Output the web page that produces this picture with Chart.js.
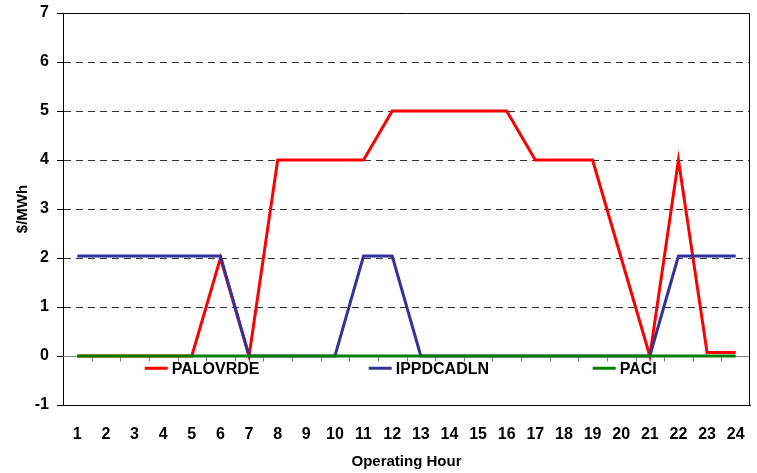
<!DOCTYPE html>
<html>
<head>
<meta charset="utf-8">
<script src="https://cdn.jsdelivr.net/npm/chart.js@4/dist/chart.umd.min.js"></script>
<style>
html,body{margin:0;padding:0;background:#fff;}
#wrap{width:757px;height:473px;position:relative;}
</style>
</head>
<body>
<div id="wrap"><canvas id="c" width="757" height="473"></canvas></div>
<script>
const hours = ['1','2','3','4','5','6','7','8','9','10','11','12','13','14','15','16','17','18','19','20','21','22','23','24'];
const palovrde = [0,0,0,0,0,2,0,4,4,4,4,5,5,5,5,5,4,4,4,2,0,4,0.07,0.07];
const ippdcadln = [2.04,2.04,2.04,2.04,2.04,2.04,0,0,0,0,2.04,2.04,0,0,0,0,0,0,0,0,0,2.04,2.04,2.04];
const paci = [0,0,0,0,0,0,0,0,0,0,0,0,0,0,0,0,0,0,0,0,0,0,0,0];
const seriesNames = ['PALOVRDE','IPPDCADLN','PACI'];
const seriesColors = ['#FF0000','#333399','#008000'];
const yMin = -1, yMax = 7;

const FONT = '"Liberation Sans", Arial, sans-serif';

const framePlugin = {
  id: 'frame',
  beforeDatasetsDraw(chart) {
    const {ctx, chartArea: a, scales: {x, y}} = chart;
    ctx.save();
    const y0 = Math.round(y.getPixelForValue(0)) + 0.5;
    ctx.strokeStyle = '#808080';
    ctx.lineWidth = 1;
    ctx.beginPath();
    ctx.moveTo(a.left, y0);
    ctx.lineTo(a.right, y0);
    ctx.stroke();
    ctx.beginPath();
    for (let i = 0; i < hours.length - 1; i++) {
      const xb = Math.round((x.getPixelForValue(i) + x.getPixelForValue(i + 1)) / 2) + 0.5;
      ctx.moveTo(xb, y0);
      ctx.lineTo(xb, y0 + 5);
    }
    ctx.stroke();
    ctx.strokeStyle = '#000';
    const top = Math.round(a.top) + 0.5;
    const right = Math.round(a.right) - 0.5;
    ctx.beginPath();
    ctx.moveTo(a.left, top);
    ctx.lineTo(right, top);
    ctx.lineTo(right, a.bottom);
    ctx.stroke();
    ctx.restore();
  },
  afterDatasetsDraw(chart) {
    const {ctx, chartArea: a, scales: {y}} = chart;
    const ly = y.getPixelForValue(-0.25);
    const fracs = [0.119, 0.445, 0.771];
    ctx.save();
    ctx.font = 'bold 16px ' + FONT;
    ctx.textBaseline = 'middle';
    ctx.textAlign = 'left';
    seriesNames.forEach((n, i) => {
      const lx = a.left + fracs[i] * (a.right - a.left);
      ctx.strokeStyle = seriesColors[i];
      ctx.lineWidth = 3;
      ctx.beginPath();
      ctx.moveTo(lx, ly);
      ctx.lineTo(lx + 23, ly);
      ctx.stroke();
      ctx.fillStyle = '#000';
      ctx.fillText(n, lx + 27, ly + 1);
    });
    ctx.restore();
  }
};

const mk = (i, data, order) => ({
  label: seriesNames[i], data, borderColor: seriesColors[i], backgroundColor: seriesColors[i],
  borderWidth: 3, pointRadius: 0, tension: 0, order, borderJoinStyle: 'miter'
});

new Chart(document.getElementById('c'), {
  type: 'line',
  data: {
    labels: hours,
    datasets: [mk(0, palovrde, 3), mk(1, ippdcadln, 2), mk(2, paci, 1)]
  },
  options: {
    responsive: false,
    animation: false,
    layout: {padding: {left: 0, top: 13, right: 7, bottom: 0}},
    plugins: {legend: {display: false}, tooltip: {enabled: false}},
    scales: {
      x: {
        offset: true,
        grid: {display: false, drawTicks: false},
        border: {display: true, color: '#000', width: 1},
        ticks: {color: '#000', font: {family: FONT, size: 16, weight: 'bold'}, padding: 20, maxRotation: 0, autoSkip: false},
        title: {display: true, text: 'Operating Hour', color: '#000', font: {family: FONT, size: 15, weight: 'bold'}, padding: {top: 0, bottom: 2}},
        afterFit(s) { s.height = 68; s.paddingLeft = 0; s.paddingRight = 0; }
      },
      y: {
        min: yMin, max: yMax,
        ticks: {stepSize: 1, color: '#000', font: {family: FONT, size: 16, weight: 'bold'}, padding: 8},
        grid: {
          color: (c) => (c.tick && c.tick.value > 0 && c.tick.value < 7) ? '#333' : 'rgba(0,0,0,0)',
          tickColor: '#000', tickLength: 6, tickBorderDash: [], lineWidth: 1
        },
        border: {display: true, color: '#000', width: 1, dash: [7, 5]},
        title: {display: true, text: '$/MWh', color: '#000', font: {family: FONT, size: 15, weight: 'bold'}, padding: {top: 14, bottom: 0}},
        afterFit(s) { s.width = 63; s.paddingTop = 0; s.paddingBottom = 0; }
      }
    }
  },
  plugins: [framePlugin]
});
</script>
</body>
</html>
